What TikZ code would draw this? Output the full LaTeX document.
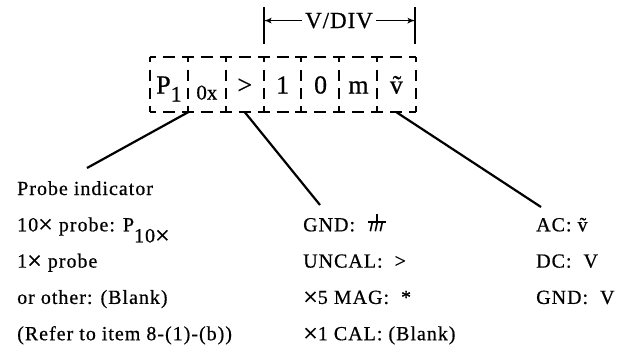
\documentclass[tikz,border=0pt]{standalone}
\usepackage{fontspec}
\setmainfont{Liberation Serif}
\usetikzlibrary{arrows}
\usetikzlibrary{positioning}
\newcommand{\tms}{\raisebox{-1.6pt}{\scalebox{1.3}{×}}}
\tikzstyle{digit} = [inner sep=0pt, minimum width=37.9pt, minimum height=55pt,
    text height=18pt, text depth=0pt,
    font=\fontsize{26}{26}\selectfont\addfontfeature{FakeBold=0.6}]
\tikzstyle{grid} = [line width=2pt, dash pattern=on 12pt off 6.95pt, dash phase=6pt]
\tikzstyle{gridv} = [line width=2pt, dash pattern=on 11pt off 7.33pt, dash phase=5.5pt]
\tikzstyle{note} = [anchor=base west, inner sep=0pt,
    font=\fontsize{20}{20}\selectfont\addfontfeature{LetterSpace=5,FakeBold=0.6}]
\tikzstyle{lead} = [line width=2.2pt]
\tikzstyle{bar} = [line width=2pt]

\begin{document}
\begin{tikzpicture}[x=1pt, y=-1pt, node distance=37.9pt, >=latex']
      \useasboundingbox (0,0) rectangle (619,349);
      % readout
      \node [digit] (b1) at (169,84.5) {P\raisebox{-8pt}{\fontsize{22}{22}\selectfont 1}};
      \node [digit, right of=b1] (b2) {\raisebox{-6pt}{\fontsize{21}{21}\selectfont 0x}};
      \node [digit, right of=b2] (b3) {>};
      \node [digit, right of=b3] (b4) {1};
      \node [digit, right of=b4] (b5) {0};
      \node [digit, right of=b5] (b6) {m};
      \node [digit, right of=b6] (b7) {\~{v}};

      \draw [grid] (b1.north west) -- (b7.north east);
      \draw [grid] (b1.south west) -- (b7.south east);
      \foreach \b in {b1,b2,b3,b4,b5,b6,b7}
        \draw [gridv] (\b.north west) -- (\b.south west);
      \draw [gridv] (b7.north east) -- (b7.south east);

      % V/DIV span
      \node [anchor=base, inner sep=0pt,
        font=\fontsize{23}{23}\selectfont\addfontfeature{LetterSpace=4,FakeBold=0.6}] (vdiv) at (339,28) {V/DIV};
      \coordinate (vl) at (263.75,7);
      \coordinate (vlb) at (263.75,44);
      \coordinate (vr) at (415.35,7);
      \coordinate (vrb) at (415.35,44);
      \draw [bar] (vl) -- (vlb);
      \draw [bar] (vr) -- (vrb);
      \draw [line width=1.7pt, ->] ([xshift=-3pt]vdiv.west) -- (vdiv.west -| vl);
      \draw [line width=1.7pt, ->] ([xshift=3pt]vdiv.east) -- (vdiv.east -| vr);

      % legends
      \node [note] (probe) at (17,195) {Probe indicator};
      \node [note] (probeA) at (17,231.3) {10\tms{} probe: P\raisebox{-11pt}{10\tms}};
      \node [note] (probeB) at (17,267.6) {1\tms{} probe};
      \node [note] (probeC) at (17,303.9) {or other: (Blank)};
      \node [note] (probeD) at (17,340.2) {(Refer to item 8-(1)-(b))};

      \node [note] (gnd) at (303,231.3) {GND:};
      \node [note] (uncal) at (303,267.6) {UNCAL:\ \ >};
      \node [note] (mag) at (303,303.9) {\tms5 MAG:\ \ *};
      \node [note] (cal) at (303,340.2) {\tms1 CAL: (Blank)};

      \node [note] (ac) at (536,231.3) {AC: \~{v}};
      \node [note] (dc) at (536,267.6) {DC:\ \ V};
      \node [note] (gndv) at (536,303.9) {GND:\ \ V};

      % ground sign
      \coordinate [right=22pt of gnd.base east] (gs);
      \draw [line width=1.8pt] (gs) ++(0,-17) -- ++(0,8) ++(-9,0) -- ++(18,0);
      \draw [line width=1.6pt] (gs) ++(-5,-9) -- ++(-2,9) ++(7,-9) -- ++(-2,9) ++(7,-9) -- ++(-2,9);

      % leaders
      \coordinate (probetip) at (87,168);
      \coordinate (gndtip) at (320,205);
      \coordinate (actip) at (541,207);
      \draw [lead] (b1.south east) -- (probetip);
      \draw [lead] (b3.south) -- (gndtip);
      \draw [lead] (b7.south) -- (actip);
    \end{tikzpicture}
\end{document}
